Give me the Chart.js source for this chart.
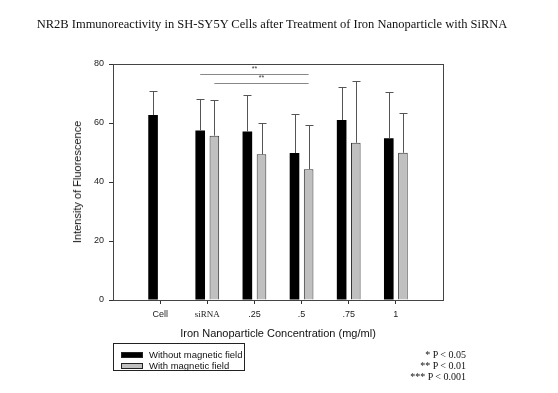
<!DOCTYPE html>
<html>
<head>
<meta charset="utf-8">
<script src="https://cdn.jsdelivr.net/npm/chart.js@4.4.0/dist/chart.umd.min.js"></script>
<style>
  body { margin: 0; background: #fff; }
  #wrap { position: relative; width: 558px; height: 393px; font-family: "Liberation Sans", Arial, sans-serif; color: #111; }
  .abs { position: absolute; white-space: nowrap; }
  #title { left: 272px; top: 24px; transform: translate(-50%, -50%); font: 12.5px "Liberation Serif", "Times New Roman", serif; }
  #ytitle { left: 77px; top: 182px; transform: translate(-50%, -50%) rotate(-90deg); font-size: 11px; }
  #xtitle { left: 278px; top: 333px; transform: translate(-50%, -50%); font-size: 11px; }
  #legend { left: 113px; top: 343px; width: 130px; height: 26px; border: 1px solid #222; font-size: 9.5px; }
  .item { position: absolute; left: 7px; height: 10px; line-height: 10px; }
  .sw { display: inline-block; width: 20px; height: 4px; margin-right: 6px; vertical-align: middle; border: 1px solid #222; }
  #pnotes { right: 92px; top: 349px; text-align: right; font: 10px/11px "Liberation Serif", "Times New Roman", serif; }
</style>
</head>
<body>
<div id="wrap">
  <canvas id="chart" width="558" height="393"></canvas>
  <div class="abs" id="title">NR2B Immunoreactivity in SH-SY5Y Cells after Treatment of Iron Nanoparticle with SiRNA</div>
  <div class="abs" id="ytitle">Intensity of Fluorescence</div>
  <div class="abs" id="xtitle">Iron Nanoparticle Concentration (mg/ml)</div>
  <div class="abs" id="legend">
    <div class="item" style="top:6px"><span class="sw" style="background:#000"></span>Without magnetic field</div>
    <div class="item" style="top:17px"><span class="sw" style="background:#c0c0c0"></span>With magnetic field</div>
  </div>
  <div class="abs" id="pnotes">* P &lt; 0.05<br>** P &lt; 0.01<br>*** P &lt; 0.001</div>
</div>
<script>
// categories (empty slots at both ends leave room like the original axis)
const categories = ['', 'Cell', 'siRNA', '.25', '.5', '.75', '1', ''];
const withoutField = [null, 62.7, 57.5, 57.1, 49.8, 61.0, 54.8, null];
const withoutSD    = [null, 8.1, 10.7, 12.5, 13.1, 11.2, 15.7, null];
const withField    = [null, null, 55.7, 49.4, 44.3, 53.3, 49.9, null];
const withSD       = [null, null, 12.2, 10.7, 15.0, 21.0, 13.5, null];
const yTicks = [0, 20, 40, 60, 80];

// significance brackets: [datasetIndex, categoryIndex] -> [datasetIndex, categoryIndex]
const sigFrom  = [[0, 2], [1, 2]];
const sigTo    = [[1, 4], [1, 4]];
const sigLevel = [76.5, 73.7];
const sigText  = ['**', '**'];

const sdByDataset = [withoutSD, withSD];

const errorBars = {
  id: 'errorBars',
  afterDatasetsDraw(chart) {
    const { ctx, scales: { y } } = chart;
    ctx.save();
    ctx.strokeStyle = '#555';
    ctx.lineWidth = 1;
    chart.data.datasets.forEach((ds, i) => {
      const meta = chart.getDatasetMeta(i);
      meta.data.forEach((bar, j) => {
        const v = ds.data[j], sd = sdByDataset[i][j];
        if (v == null || sd == null) return;
        const x = Math.round(bar.x) + 0.5;
        const top = Math.round(y.getPixelForValue(v + sd)) + 0.5;
        ctx.beginPath();
        ctx.moveTo(x, bar.y);
        ctx.lineTo(x, top);
        ctx.moveTo(x - 4, top);
        ctx.lineTo(x + 4, top);
        ctx.stroke();
      });
    });
    // significance lines
    ctx.strokeStyle = '#888';
    ctx.fillStyle = '#333';
    ctx.font = '7px "Liberation Sans", Arial, sans-serif';
    ctx.textAlign = 'center';
    ctx.textBaseline = 'bottom';
    sigFrom.forEach((f, k) => {
      const x1 = chart.getDatasetMeta(f[0]).data[f[1]].x;
      const t = sigTo[k];
      const x2 = chart.getDatasetMeta(t[0]).data[t[1]].x;
      const yy = Math.round(y.getPixelForValue(sigLevel[k])) + 0.5;
      ctx.beginPath();
      ctx.moveTo(x1, yy);
      ctx.lineTo(x2, yy);
      ctx.stroke();
      ctx.fillText(sigText[k], (x1 + x2) / 2, yy - 2);
    });
    ctx.restore();
  }
};

const frame = {
  id: 'frame',
  afterDraw(chart) {
    const { ctx, chartArea: a } = chart;
    ctx.save();
    ctx.strokeStyle = '#444';
    ctx.lineWidth = 1;
    ctx.strokeRect(Math.round(a.left) + 0.5, Math.round(a.top) + 0.5, Math.round(a.right - a.left), Math.round(a.bottom - a.top));
    ctx.restore();
  }
};

new Chart(document.getElementById('chart'), {
  type: 'bar',
  data: {
    labels: categories,
    datasets: [
      { label: 'Without magnetic field', data: withoutField, backgroundColor: '#000', borderColor: '#000', borderWidth: 0 },
      { label: 'With magnetic field', data: withField, backgroundColor: '#c0c0c0', borderColor: '#333', borderWidth: 1 }
    ]
  },
  options: {
    responsive: false,
    animation: false,
    categoryPercentage: 0.6,
    barPercentage: 0.68,
    layout: { padding: { left: 0, right: 115, top: 64, bottom: 69 } },
    plugins: { legend: { display: false }, tooltip: { enabled: false } },
    scales: {
      x: {
        offset: false,
        afterFit: s => { s.height = 24; },
        grid: {
          offset: false,
          drawOnChartArea: false, drawTicks: true, tickLength: 4,
          color: c => (c.index === 0 || c.index === categories.length - 1) ? 'rgba(0,0,0,0)' : '#333'
        },
        border: { color: '#333' },
        ticks: {
          autoSkip: false, maxRotation: 0, padding: 5, color: '#222',
          font: c => c.index === 2 ? { family: '"Liberation Serif", serif', size: 9 } : { family: '"Liberation Sans", Arial, sans-serif', size: 9 }
        }
      },
      y: {
        min: 0, max: 80,
        afterFit: s => { s.width = 113; },
        afterBuildTicks: s => { s.ticks = yTicks.map(v => ({ value: v })); },
        grid: { drawOnChartArea: false, drawTicks: true, tickLength: 4, color: '#333' },
        border: { color: '#333' },
        ticks: { padding: 5, color: '#222', font: { family: '"Liberation Sans", Arial, sans-serif', size: 9 } }
      }
    }
  },
  plugins: [errorBars, frame]
});
</script>
</body>
</html>
